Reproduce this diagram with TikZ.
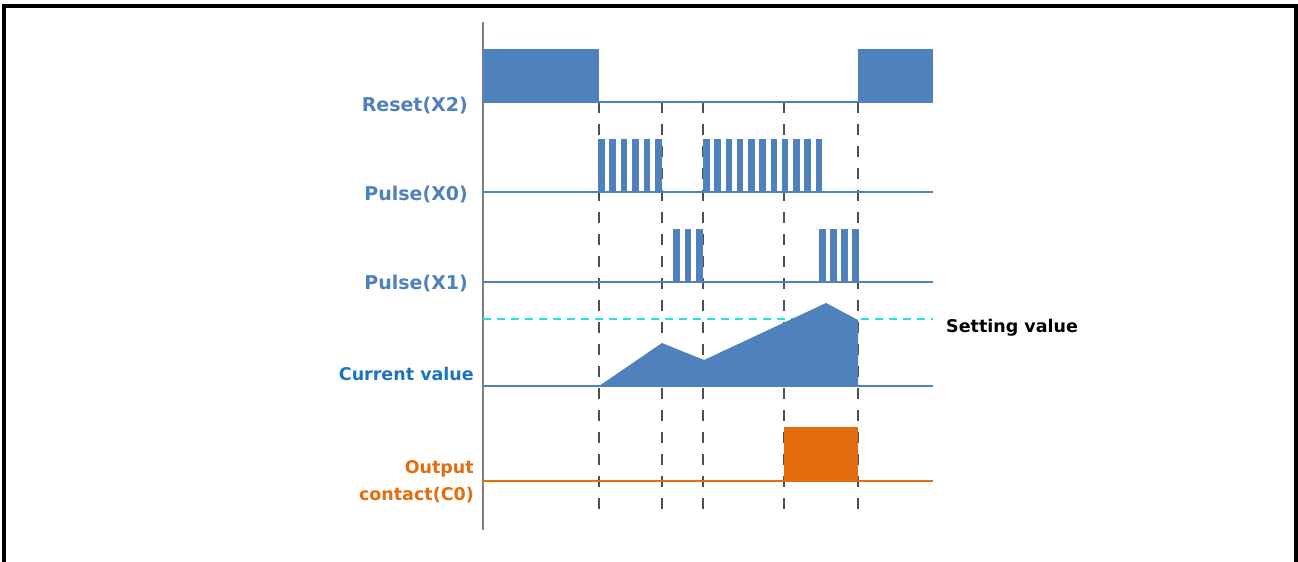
\documentclass[tikz,border=0pt]{standalone}
\usepackage{fontspec}
\setmainfont{DejaVu Sans}
\definecolor{sigblue}{HTML}{4F81BD}
\definecolor{curblue}{HTML}{1E73BE}
\definecolor{outorange}{HTML}{E46C0A}
\definecolor{setcyan}{HTML}{22E0E8}
\definecolor{axisgrey}{HTML}{808080}
\definecolor{dashgrey}{HTML}{505050}
\tikzset{
  lbl/.style={anchor=base east, inner sep=0pt, font=\fontsize{19}{19}\selectfont\bfseries, text=sigblue},
  lblsmall/.style={anchor=base east, inner sep=0pt, font=\fontsize{17.5}{17.5}\selectfont\bfseries},
  sigline/.style={draw=sigblue, line width=1.6pt},
  bar/.style={fill=sigblue, draw=none},
  timedash/.style={draw=dashgrey, line width=1.8pt, dash pattern=on 11pt off 11pt},
}
\begin{document}
\begin{tikzpicture}[x=1pt, y=-1pt]
\useasboundingbox (0,0) rectangle (1298,562);
% frame (open at the bottom)
\draw[line width=4pt] (4,562) -- (4,6) -- (1295.5,6) -- (1295.5,562);

% time marker dashed lines
\foreach \t in {599,662,703,784,858}
  \draw[timedash] (\t,102) -- (\t,518);

% vertical axis
\draw[axisgrey, line width=1.8pt] (483,22) -- (483,530);

% Reset (X2)
\fill[sigblue] (483,49) rectangle (599,103);
\fill[sigblue] (858,49) rectangle (933,103);
\draw[sigline] (599,102) -- (858,102);

% Pulse (X0)
\draw[sigline] (483,192) -- (933,192);
\foreach \i in {0,...,5}
  \fill[bar] ({598+11.45*\i},139) rectangle ({604.5+11.45*\i},192);
\foreach \i in {0,...,10}
  \fill[bar] ({703+11.25*\i},139) rectangle ({709.5+11.25*\i},192);

% Pulse (X1)
\draw[sigline] (483,282) -- (933,282);
\foreach \i in {0,...,2}
  \fill[bar] ({673+11.5*\i},229) rectangle ({679.5+11.5*\i},282);
\foreach \i in {0,...,3}
  \fill[bar] ({819+11*\i},229) rectangle ({826+11*\i},282);

% Setting value
\draw[setcyan, line width=1.6pt, dash pattern=on 8pt off 6pt] (483,319) -- (933,319);
\node[lblsmall, anchor=base west, text=black] (setval) at (946,332) {Setting value};

% Current value
\draw[sigline] (483,386) -- (933,386);
\fill[sigblue] (599,386) -- (662,343) -- (704,360) -- (826,303) -- (858,320) -- (858,386) -- cycle;

% Output contact (C0)
\draw[outorange, line width=1.6pt] (483,481) -- (933,481);
\fill[outorange] (784,427) rectangle (858,481);

% labels
\node[lbl] (lreset) at (468,111) {Reset(X2)};
\node[lbl] (lx0) at (468,200) {Pulse(X0)};
\node[lbl] (lx1) at (468,289) {Pulse(X1)};
\node[lblsmall, text=curblue] (lcur) at (474,380) {Current value};
\node[lblsmall, text=outorange] (lout1) at (474,473) {Output};
\node[lblsmall, text=outorange] (lout2) at (474,500) {contact(C0)};
\end{tikzpicture}
\end{document}
